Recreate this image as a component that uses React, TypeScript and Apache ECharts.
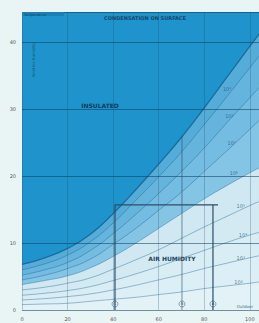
import React, { useEffect, useRef } from "react";
import * as echarts from "echarts";

const xs = [0, 10, 20, 30, 40, 50, 60, 70, 80, 90, 100, 104];
const boundary = [6.8, 7.8, 9.2, 11.3, 14.4, 18.0, 21.8, 25.8, 30.2, 34.8, 39.4, 41.2];
const curve1 = [6.0, 6.9, 8.2, 10.2, 13.0, 16.4, 19.9, 23.6, 27.7, 31.9, 36.2, 37.9];
const curve2 = [5.2, 6.0, 7.1, 8.9, 11.4, 14.3, 17.4, 20.7, 24.2, 28.0, 31.7, 33.2];
const curve3 = [4.5, 5.2, 6.2, 7.6, 9.8, 12.2, 14.9, 17.6, 20.7, 23.8, 27.0, 28.3];
const curve4 = [3.8, 4.4, 5.1, 6.3, 8.0, 10.0, 12.2, 14.4, 16.6, 18.6, 20.5, 21.2];
const curve5 = [3.0, 3.4, 4.0, 4.8, 6.1, 7.5, 9.0, 10.7, 12.4, 14.0, 15.6, 16.2];
const curve6 = [2.2, 2.5, 2.9, 3.5, 4.4, 5.4, 6.5, 7.7, 8.9, 10.1, 11.2, 11.6];
const curve7 = [1.5, 1.7, 2.0, 2.4, 3.0, 3.7, 4.5, 5.3, 6.2, 7.0, 7.8, 8.1];
const curve8 = [0.8, 0.9, 1.0, 1.3, 1.6, 1.9, 2.3, 2.7, 3.2, 3.6, 4.0, 4.2];
const curves = [boundary, curve1, curve2, curve3, curve4, curve5, curve6, curve7, curve8];
const curveLabels = ["10⁹", "10⁸", "10⁷", "10⁶", "10⁵", "10⁴", "10³", "10²"];
const curveLabelY = [33.0, 29.0, 25.0, 20.5, 15.5, 11.2, 7.8, 4.2];
const curveLabelX = [90, 91, 92, 93, 96, 97, 96, 95];

const markerA = [[83.8, 0], [83.8, 15.7]];
const markerC = [[40.8, 0], [40.8, 15.7], [86, 15.7]];
const markerB = [[70.2, 0], [70.2, 26]];
const letters = [
  { name: "C", value: [40.8, 0.9] },
  { name: "B", value: [70.2, 0.9] },
  { name: "A", value: [83.8, 0.9] },
];

const fills = ["#55acd9", "#64b4dd", "#74bce1", "#84c4e5", "#cfe8f2", "#d4eaf3", "#d9edf5", "#ddeff6", "#e2f2f7"];

export default function App() {
  const ref = useRef<HTMLDivElement>(null);
  useEffect(() => {
    const chart = echarts.init(ref.current!, undefined, { renderer: "svg" });
    const series: any[] = curves.map((c, i) => ({
      type: "line",
      data: xs.map((x, j) => [x, c[j]]),
      smooth: true,
      symbol: "none",
      lineStyle: { color: i === 0 ? "#1a6c9c" : "rgba(30,95,135,0.5)", width: i === 0 ? 1.3 : 0.8 },
      areaStyle: { color: fills[i], opacity: 1 },
      z: 2 + i * 0.01,
    }));
    series.push({
      type: "scatter",
      data: curveLabelY.map((y, i) => [curveLabelX[i], y]),
      symbolSize: 1,
      itemStyle: { color: "rgba(0,0,0,0)" },
      label: {
        show: true,
        position: "inside",
        formatter: (p: any) => curveLabels[p.dataIndex],
        fontSize: 5,
        color: "#2a5a78",
        fontFamily: "DejaVu Sans",
      },
      z: 6,
    });
    [markerC, markerA].forEach((m) =>
      series.push({
        type: "line",
        data: m,
        symbol: "none",
        lineStyle: { color: "#2c4e66", width: 1.2 },
        z: 7,
      })
    );
    series.push({
      type: "line",
      data: markerB,
      symbol: "none",
      lineStyle: { color: "rgba(44,78,102,0.6)", width: 1 },
      z: 7,
    });
    series.push({
      type: "scatter",
      data: letters,
      symbol: "circle",
      symbolSize: 6,
      itemStyle: { color: "rgba(255,255,255,0)", borderColor: "#2c4e66", borderWidth: 0.6 },
      label: { show: true, position: "inside", formatter: "{b}", fontSize: 4, color: "#2c4e66" },
      z: 8,
    });
    chart.setOption({
      animation: false,
      backgroundColor: "#e9f4f5",
      grid: { left: 22, right: 0, top: 12, bottom: 13, show: true, backgroundColor: "#1f93cb", borderWidth: 0 },
      xAxis: {
        type: "value",
        min: 0,
        max: 104,
        interval: 20,
        z: 5,
        axisLine: { show: false },
        axisTick: { show: false },
        axisLabel: { fontSize: 5, color: "#555", margin: 6, showMaxLabel: false, fontFamily: "DejaVu Sans" },
        splitLine: { show: true, lineStyle: { color: "rgba(30,80,110,0.35)", width: 0.8 } },
      },
      yAxis: {
        type: "value",
        min: 0,
        max: 44.5,
        interval: 10,
        z: 5,
        axisLine: { show: false },
        axisTick: { show: false },
        axisLabel: { fontSize: 5, color: "#555", margin: 6, showMaxLabel: false, fontFamily: "DejaVu Sans" },
        splitLine: { show: true, lineStyle: { color: "rgba(15,60,95,0.55)", width: 1 } },
      },
      series,
      graphic: [
        { type: "rect", shape: { x: 22, y: 12, width: 42, height: 4 }, style: { fill: "#1a80b5" }, z: 10 },
        { type: "text", x: 24, y: 12.5, style: { text: "Temperature", fontSize: 3.5, fill: "#1b4a6b", fontFamily: "DejaVu Sans" }, z: 10 },
        { type: "text", x: 145, y: 18, style: { text: "CONDENSATION ON SURFACE", fontSize: 5, fontWeight: "bold", fill: "#17486a", align: "center", verticalAlign: "middle", fontFamily: "DejaVu Sans" }, z: 10 },
        { type: "text", x: 33, y: 60, rotation: Math.PI / 2, style: { text: "Relative humidity", fontSize: 4, fill: "#1a5a80", align: "center", verticalAlign: "middle", fontFamily: "DejaVu Sans" }, z: 10 },
        { type: "text", x: 100, y: 105, style: { text: "INSULATED", fontSize: 6, fontWeight: "bold", fill: "#0f3d5c", align: "center", verticalAlign: "middle", fontFamily: "DejaVu Sans" }, z: 10 },
        { type: "text", x: 172, y: 258, style: { text: "AIR HUMIDITY", fontSize: 6, fontWeight: "bold", fill: "#1f4660", align: "center", verticalAlign: "middle", fontFamily: "DejaVu Sans" }, z: 10 },
        { type: "text", x: 245, y: 306, style: { text: "Outdoor", fontSize: 4, fill: "#3a6a88", align: "center", verticalAlign: "middle", fontFamily: "DejaVu Sans" }, z: 10 },
      ],
    });
    return () => chart.dispose();
  }, []);
  return <div ref={ref} style={{ position: "absolute", left: 0, top: 0, width: 259, height: 323 }} />;
}
